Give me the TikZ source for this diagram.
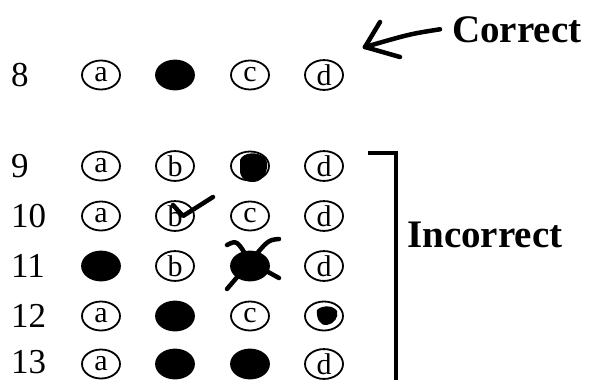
\documentclass[tikz,border=0pt]{standalone}
\usepackage{fontspec}
\setmainfont{Liberation Serif}
\usetikzlibrary{shapes.geometric}
\newcommand{\bubfont}{\fontsize{30}{34}\selectfont}
\newcommand{\numfont}{\fontsize{35}{40}\selectfont}
\newcommand{\tagfont}{\fontsize{39}{46}\selectfont\bfseries}
\begin{document}
\begin{tikzpicture}[x=1pt,y=-1pt]
	\tikzstyle{every node}+=[inner sep=0pt]
	\tikzstyle{bubble}=[draw,ellipse,line width=1.8pt,minimum width=38pt,minimum height=29pt,font=\bubfont]
	\tikzstyle{inked}=[bubble,fill=black]
	\tikzstyle{qnum}=[anchor=west,font=\numfont]
	\tikzstyle{pen}=[line width=4.5pt,line cap=round,line join=round]
	\useasboundingbox (0,0) rectangle (589,380);
	% question 8
	\node [qnum] (n8) at (11,75) {8};
	\node [bubble] (q8a) at (101,75) {a};
	\node [inked] (q8b) at (175,75) {};
	\node [bubble] (q8c) at (250,75) {c};
	\node [bubble] (q8d) at (324,75) {d};
	% question 9
	\node [qnum] (n9) at (11,166) {9};
	\node [bubble] (q9a) at (101,166) {a};
	\node [bubble] (q9b) at (175,166) {b};
	\node [bubble] (q9c) at (250,166) {};
	\fill (240,160) .. controls (243,152) and (258,151) .. (265,158)
		.. controls (270,164) and (266,178) .. (258,181)
		.. controls (250,184) and (241,180) .. (240,172) -- cycle;
	\node [bubble] (q9d) at (324,166) {d};
	% question 10
	\node [qnum] (n10) at (11,216) {10};
	\node [bubble] (q10a) at (101,216) {a};
	\node [bubble] (q10b) at (175,216) {b};
	\node [bubble] (q10c) at (250,216) {c};
	\node [bubble] (q10d) at (324,216) {d};
	\draw [pen] (173,205) -- (183,216) -- (213,197);
	% question 11
	\node [qnum] (n11) at (11,266) {11};
	\node [inked] (q11a) at (101,266) {};
	\node [bubble] (q11b) at (175,266) {b};
	\node [inked] (q11c) at (250,266) {};
	\draw [pen] (227,245) .. controls (237,240) .. (250,262) -- (279,278);
	\draw [pen] (279,239) .. controls (268,240) .. (250,262) -- (227,289);
	\node [bubble] (q11d) at (324,266) {d};
	% question 12
	\node [qnum] (n12) at (11,316) {12};
	\node [bubble] (q12a) at (101,316) {a};
	\node [inked] (q12b) at (175,316) {};
	\node [bubble] (q12c) at (250,316) {c};
	\node [bubble] (q12d) at (324,316) {};
	\fill (317,310) .. controls (322,305) and (333,305) .. (337,311)
		.. controls (339,317) and (334,324) .. (327,325)
		.. controls (320,326) and (316,318) .. cycle;
	% question 13
	\node [qnum] (n13) at (11,362) {13};
	\node [bubble] (q13a) at (101,364) {a};
	\node [inked] (q13b) at (175,364) {};
	\node [inked] (q13c) at (250,364) {};
	\node [bubble] (q13d) at (324,364) {d};
	% labels
	\node [anchor=base west,font=\tagfont] (correct) at (452,42) {Correct};
	\coordinate (tip) at (365,47);
	\draw [pen] ([xshift=-12pt]correct.west) .. controls (410,34) .. (tip);
	\draw [pen] (tip) -- ++(15,-25);
	\draw [pen] (tip) -- ++(35,10);
	\node [anchor=base west,font=\tagfont] (incorrect) at (407,247) {Incorrect};
	\draw [line width=4pt] (368,153) -- (396,153) -- (396,380);
\end{tikzpicture}
\end{document}
